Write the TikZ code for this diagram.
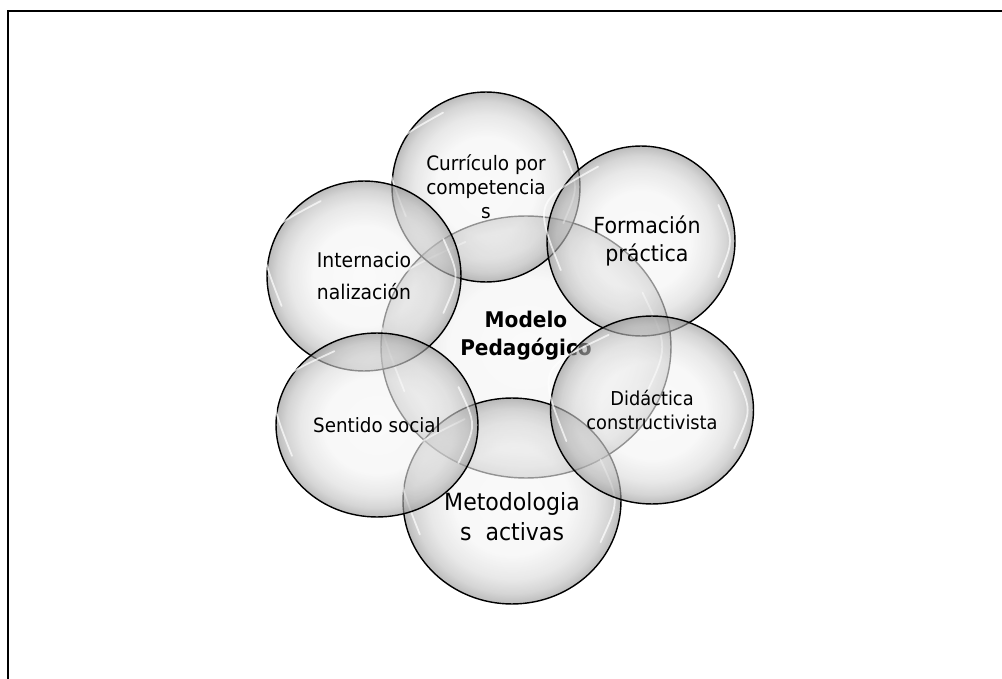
\documentclass[tikz,border=0pt]{standalone}
\usepackage{fontspec}
\setmainfont{DejaVu Sans}[FakeStretch=0.93]
\usetikzlibrary{shapes.geometric,calc}

\pgfdeclareradialshading{bubble}{\pgfpoint{0bp}{0bp}}{%
  color(0bp)=(gray!7); color(13bp)=(gray!9); color(19bp)=(gray!30);
  color(22.5bp)=(gray!55); color(25bp)=(gray!88); color(50bp)=(gray!88)}

\tikzset{
  bubble/.style={ellipse, draw=black, line width=0.8pt, shade, shading=bubble,
    fill opacity=0.6, text opacity=1, align=center, inner sep=0pt},
  bubtext/.style={align=center, text opacity=1, fill opacity=1, inner sep=0pt},
  gloss/.style={white, line width=1pt, opacity=0.7, line cap=round}
}

% brillo blanco dentro de una burbuja
\newcommand{\brillo}[1]{%
  \draw[gloss] ($(#1.center)!0.9!(#1.120)$) .. controls ($(#1.center)!1.2!(#1.160)$) .. ($(#1.center)!0.9!(#1.200)$);
  \draw[gloss] ($(#1.center)!0.9!(#1.335)$) .. controls ($(#1.center)!0.98!(#1.0)$) .. ($(#1.center)!0.9!(#1.25)$);
}

\begin{document}
\begin{tikzpicture}[x=0.02cm, y=-0.02cm]
  \useasboundingbox (0,0) rectangle (1002,679);
  % marco
  \draw[line width=1.2pt] (8,679) -- (8,11) -- (1002,11);
  % centro
  \node (modelo) [bubble, minimum width=5.8cm, minimum height=5.24cm,
    label={[bubtext, yshift=0.22cm, font=\bfseries\fontsize{12.3}{15.9}\selectfont]center:Modelo\\Pedagógico}]
    at (526,347) {};
  \brillo{modelo}
  % alrededor
  \node (curriculo) [bubble, minimum width=3.76cm, minimum height=3.8cm,
    font=\fontsize{11.3}{13.6}\selectfont] at (486,187) {Currículo por\\competencia\\s};
  \brillo{curriculo}
  \node (internac) [bubble, minimum width=3.88cm, minimum height=3.8cm,
    font=\fontsize{11.5}{18}\selectfont] at (364,276) {Internacio\\nalización};
  \brillo{internac}
  \node (formacion) [bubble, minimum width=3.76cm, minimum height=3.8cm,
    label={[bubtext, xshift=0.12cm, font=\fontsize{12.6}{15.9}\selectfont]center:Formación\\práctica}]
    at (641,241) {};
  \brillo{formacion}
  \node (metodo) [bubble, minimum width=4.36cm, minimum height=4.12cm,
    label={[bubtext, yshift=-0.32cm, font=\fontsize{13.5}{17}\selectfont]center:Metodologia\\s\ \ activas}]
    at (512,501) {};
  \brillo{metodo}
  \node (sentido) [bubble, minimum width=4.04cm, minimum height=3.68cm,
    font=\fontsize{11.2}{13.6}\selectfont] at (377,425) {Sentido social};
  \brillo{sentido}
  \node (didactica) [bubble, minimum width=4.06cm, minimum height=3.76cm,
    font=\fontsize{10.9}{13.6}\selectfont] at (652,410) {Didáctica\\constructivista};
  \brillo{didactica}
\end{tikzpicture}
\end{document}
